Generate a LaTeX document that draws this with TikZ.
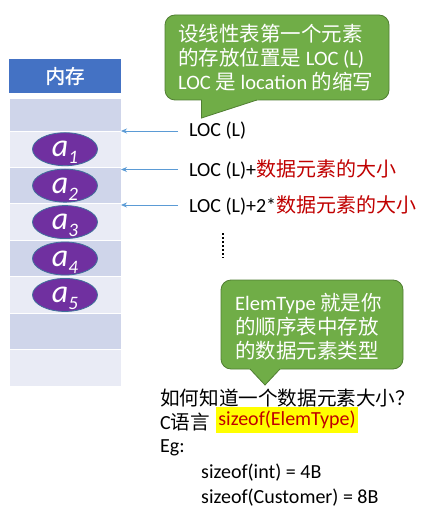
\documentclass[tikz,border=0pt]{standalone}
\usepackage{fontspec}
\setmainfont{Carlito}
\newfontfamily\cjk{Noto Sans CJK SC}
\newfontfamily\cjkb[FakeBold=1.5]{Noto Sans CJK SC}
\usetikzlibrary{shapes.geometric,arrows.meta}
\definecolor{hdr}{HTML}{4472C4}
\definecolor{cdark}{HTML}{CFD5EA}
\definecolor{clight}{HTML}{E9EBF5}
\definecolor{purp}{HTML}{7030A0}
\definecolor{eline}{HTML}{41719C}
\definecolor{arrc}{HTML}{5B9BD5}
\definecolor{grn}{HTML}{70AD47}
\definecolor{grnd}{HTML}{507E32}
\definecolor{redt}{HTML}{C00000}
\definecolor{hlyel}{HTML}{FFFF00}
\begin{document}
\begin{tikzpicture}[x=1pt,y=-1pt,
  cellbox/.style={draw=white, line width=0.8pt, minimum width=112pt, inner sep=0pt, outer sep=0pt},
  elem/.style={ellipse, fill=purp, draw=eline, line width=0.8pt, minimum width=65pt, minimum height=33pt, inner sep=0pt, text=white},
  arr/.style={draw=arrc, line width=0.8pt, -{Stealth[length=6pt,width=5pt]}},
  lbl/.style={anchor=west, inner sep=0pt, font=\fontsize{20}{24}\selectfont},
  calloutbox/.style={fill=grn, draw=grnd, line width=0.8pt, rounded corners=10pt, inner sep=0pt},
  callouttext/.style={anchor=west, inner sep=0pt, align=left, text=white, font=\fontsize{20.5}{24}\selectfont},
  bodytext/.style={anchor=west, inner sep=0pt, font=\fontsize{20}{24}\selectfont}
]
\useasboundingbox (0,0) rectangle (442,521);

% header
\node[fill=hdr, minimum width=112pt, minimum height=34pt, inner sep=0pt, text=white,
      font=\cjkb\fontsize{19.5}{19.5}\selectfont] (hd) at (65,76) {内存};

% memory cells
\node[cellbox, fill=cdark, minimum height=33pt] (c1) at (65,114.5) {};
\foreach \i/\col in {2/clight,3/cdark,4/clight,5/cdark,6/clight,7/cdark,8/clight}{
  \pgfmathsetmacro{\cy}{131+(\i-2)*36.43+18.215}
  \node[cellbox, fill=\col, minimum height=36.43pt] (c\i) at (65,\cy) {};
}

% elements
\foreach \i/\k in {2/1,3/2,4/3,5/4,6/5}{
  \node[elem] (e\k) at (c\i.center) {\raisebox{-7.5pt}[0pt][0pt]{\fontsize{32}{32}\selectfont\itshape a\raisebox{-7pt}{\fontsize{19}{19}\selectfont \k}}};
}

% address labels
\node[lbl] (l1) at (189,131) {LOC (L)};
\node[lbl] (l2) at (189,169.5) {LOC (L)+\textcolor{redt}{\cjk 数据元素的大小}};
\node[lbl] (l3) at (189,205) {LOC (L)+2*\textcolor{redt}{\cjk 数据元素的大小}};
\draw[arr] ([xshift=-11pt]l1.west) -- (l1.west -| c2.east);
\draw[arr] ([xshift=-11pt]l2.west) -- (l2.west -| c3.east);
\draw[arr] ([xshift=-11pt]l3.west) -- (l3.west -| c4.east);
\draw[line width=1.6pt, dash pattern=on 1.6pt off 2.4pt] (223,233) -- (223,258);

% callout 1
\node[calloutbox, minimum width=224pt, minimum height=85pt] (co1) at (277,57.5) {};
\fill[grn] (201.5,99) -- (201.5,118) -- (260,99) -- cycle;
\draw[grnd, line width=0.8pt, line join=miter] (201.5,100) -- (201.5,118) -- (257,100);
\node[callouttext] (t1) at (178,57.5) {{\cjk 设线性表第一个元素}\\{\cjk 的存放位置是} LOC (L)\\LOC {\cjk 是} location {\cjk 的缩写}};

% callout 2
\node[calloutbox, minimum width=182pt, minimum height=89pt] (co2) at (312,324.5) {};
\fill[grn] (249,368) -- (265,385) -- (281,368) -- cycle;
\draw[grnd, line width=0.8pt, line join=miter] (250,369) -- (265,385) -- (280,369);
\node[callouttext] (t2) at (235,326.5) {ElemType {\cjk 就是你}\\{\cjk 的顺序表中存放}\\{\cjk 的数据元素类型}};

% bottom text
\node[bodytext, font=\cjk\fontsize{19.6}{24}\selectfont] (b1) at (160,398) {如何知道一个数据元素大小？};
\node[bodytext] (b2) at (160,422) {C{\cjk\fontsize{19.6}{24}\selectfont 语言}};
\node[fill=hlyel, text=redt, inner sep=0pt, minimum width=142pt, minimum height=26pt,
      font=\fontsize{20}{24}\selectfont] (hl) at (287,420) {sizeof(ElemType)};
\node[bodytext] (b3) at (160,448) {Eg:};
\node[bodytext] (b4) at (201,473) {sizeof(int) = 4B};
\node[bodytext] (b5) at (201,498) {sizeof(Customer) = 8B};
\end{tikzpicture}
\end{document}
